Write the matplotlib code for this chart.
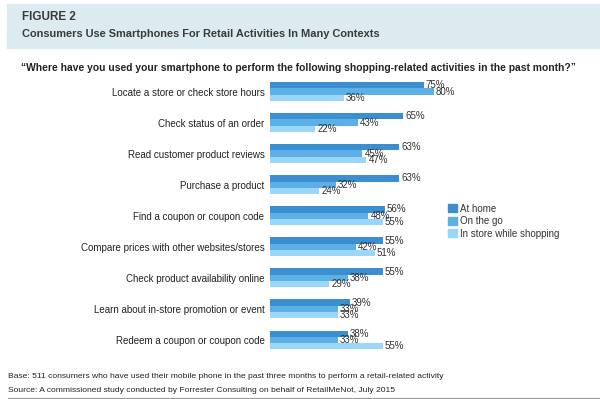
import numpy as np
import matplotlib.pyplot as plt
from matplotlib.patches import Rectangle, Patch

plt.rcParams['font.family'] = ['Liberation Sans', 'DejaVu Sans']

activities = [
    'Locate a store or check store hours',
    'Check status of an order',
    'Read customer product reviews',
    'Purchase a product',
    'Find a coupon or coupon code',
    'Compare prices with other websites/stores',
    'Check product availability online',
    'Learn about in-store promotion or event',
    'Redeem a coupon or coupon code',
]
at_home = [75, 65, 63, 63, 56, 55, 55, 39, 38]
on_the_go = [80, 43, 45, 32, 48, 42, 38, 33, 33]
in_store = [36, 22, 47, 24, 55, 51, 29, 33, 55]
series_names = ['At home', 'On the go', 'In store while shopping']
colors = ['#3b8ecf', '#5db0e6', '#9ad6f7']

W, H = 600, 399
fig = plt.figure(figsize=(W / 100, H / 100), dpi=100)

# header band
fig.patches.append(Rectangle((7 / W, 1 - 48 / H), 593 / W, 44 / H,
                             transform=fig.transFigure, color='#dcebef', zorder=0))
fig.text(22 / W, 1 - 17 / H, 'FIGURE 2', fontsize=8.4, fontweight='bold',
         color='#3a3a3a', va='center')
fig.text(22 / W, 1 - 34 / H,
         'Consumers Use Smartphones For Retail Activities In Many Contexts',
         fontsize=7.9, fontweight='bold', color='#3a3a3a', va='center')
fig.text(298 / W, 1 - 68 / H,
         '\u201cWhere have you used your smartphone to perform the following '
         'shopping-related activities in the past month?\u201d',
         fontsize=7.35, fontweight='bold', color='#222222', ha='center', va='center')

ax = fig.add_axes([270 / W, 1 - 355.5 / H, 205 / W, 279.5 / H])
y = np.arange(len(activities))
bh = 0.203
for k, (vals, c) in enumerate(zip([at_home, on_the_go, in_store], colors)):
    pos = y + (k - 1) * bh
    ax.barh(pos, vals, height=bh, color=c, label=series_names[k])
    for p, v in zip(pos, vals):
        ax.annotate(f'{v}%', (v, p), xytext=(1.5, 0), textcoords='offset points',
                    va='center', ha='left', fontsize=7, color='#333333')

ax.set_xlim(0, 100)
ax.set_ylim(len(activities) - 0.5, -0.5)
ax.set_yticks(y)
ax.set_yticklabels(activities, fontsize=7.0, color='#222222')
ax.tick_params(axis='y', length=0, pad=4)
ax.set_xticks([])
for s in ax.spines.values():
    s.set_visible(False)
ax.patch.set_alpha(0)

handles = [Patch(color=c) for c in colors]
fig.legend(handles, series_names, loc='upper left',
           bbox_to_anchor=(439 / W, 1 - 195 / H), frameon=False, fontsize=7,
           handlelength=0.9, handleheight=0.9, handletextpad=0.4, labelspacing=0.25,
           labelcolor='#333333')

fig.text(8 / W, 1 - 376 / H,
         'Base: 511 consumers who have used their mobile phone in the past three months '
         'to perform a retail-related activity', fontsize=6.1, color='#222222', va='center')
fig.text(8 / W, 1 - 391 / H,
         'Source: A commissioned study conducted by Forrester Consulting on behalf of '
         'RetailMeNot, July 2015', fontsize=6.1, color='#222222', va='center')
fig.add_artist(plt.Line2D([8 / W, 1], [1 - 398 / H, 1 - 398 / H],
                          transform=fig.transFigure, color='#999999', lw=0.8))

fig.savefig('out.png', dpi=100)
